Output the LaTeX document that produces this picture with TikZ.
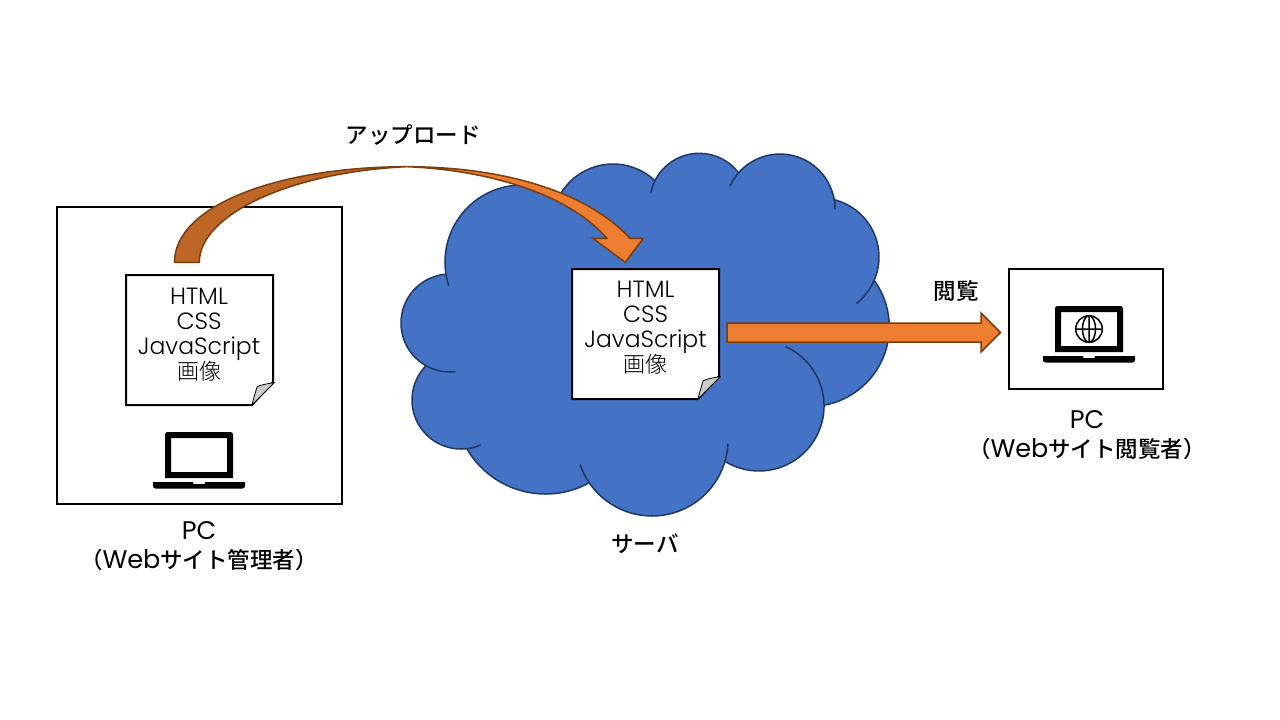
\documentclass[tikz,border=0pt]{standalone}
\usepackage{fontspec}
\setmainfont{Poppins}
\newfontfamily\jpfont{Noto Sans CJK JP Medium}
\newfontfamily\jplight{Noto Sans CJK JP Light}
\newfontfamily\latinlight{Poppins Light}
\definecolor{cloudblue}{HTML}{4472C4}
\definecolor{cloudline}{HTML}{1F3864}
\definecolor{arroworange}{HTML}{ED7D31}
\definecolor{arrowdark}{HTML}{BE6626}
\definecolor{arrowline}{HTML}{7A3D0E}
\tikzstyle{pcbox}=[draw, line width=2pt, fill=white, inner sep=0pt]
\tikzstyle{paper}=[inner sep=0pt, align=center, font=\latinlight\fontsize{23.5}{25}\selectfont]
\tikzstyle{label}=[inner sep=0pt, align=center, font=\fontsize{25.5}{29}\selectfont]
\tikzstyle{cloudedge}=[draw=cloudline, line width=1.5pt, line cap=round]
\tikzstyle{blockarrow}=[draw=arrowline, line width=1.5pt, line join=miter]
\newcommand{\pcbox}{\node[pcbox]}
\newcommand{\paper}{\node[paper]}
\newcommand{\txt}{\node[label]}
\newcommand{\jp}[1]{{\jpfont\fontsize{22.5}{29}\selectfont #1}}
\newcommand{\jpthin}[1]{{\jplight\fontsize{22}{25}\selectfont #1}}
% lobes of the cloud: centre x, centre y, radius, first and last angle
\newcommand{\lobes}{522/262/77/162.4/300.3, 613/225/61/207.8/313.5, 699.2/202.8/49.5/192.5/322,
 780/209/55/205/360, 820/257/59/284.7/411.6, 809.8/327/79.5/-35.2/79, 759/406/65/-65.6/122,
 652/440/76/3/160.9, 545.5/403/91/62/149.4, 461/400/49/67/223.4, 450/323/49/84/265}
% sheet with the turned up corner, #1 and #2 are the shift
\newcommand{\sheet}[2]{
\begin{scope}[shift={(#1,#2)}]
\draw[line width=2pt, fill=white, line join=miter] (126,275) -- (273,275) -- (273,382) -- (252,405) -- (126,405) -- cycle;
\draw[line width=.8pt, fill=black!20, line join=round] (274.5,382.5) .. controls (266,384) and (260,385) .. (257,387) .. controls (255,394) and (253,400) .. (252,405) -- cycle;
\end{scope}}
\newcommand{\laptop}[2]{
\begin{scope}[shift={(#1,#2)}]
\fill[even odd rule] (165,478) [rounded corners=2.5pt] -- (165,432) -- (233,432) [sharp corners] -- (233,478) -- cycle (171,438) rectangle (227,472);
\fill (153,482) -- (193,482) -- (193.5,484) -- (204.5,484) -- (205,482) -- (245,482) [rounded corners=2.5pt] -- (245,488.5) -- (153,488.5) [sharp corners] -- cycle;
\end{scope}}

\begin{document}
\begin{tikzpicture}[x=1pt, y=-1pt]
\useasboundingbox (0,0) rectangle (1280,720);

% cloud
\foreach \cx/\cy/\rr/\first/\last in \lobes {
  \fill[cloudblue] (\cx,\cy) circle (\rr);
}
\fill[cloudblue] (522,262) -- (613,225) -- (699,203) -- (780,209) -- (820,257) -- (810,327)
 -- (759,406) -- (652,440) -- (545,403) -- (461,400) -- (450,323) -- cycle;
\foreach \cx/\cy/\rr/\first/\last in \lobes {
  \draw[cloudedge] (\cx,\cy) ++(\first:\rr) arc[start angle=\first, end angle=\last, radius=\rr];
}

% the two PCs
\pcbox (admin) at (199.5,355.5) [minimum width=285, minimum height=297] {};
\pcbox (viewer) at (1086,329) [minimum width=154, minimum height=120] {};
\laptop{0}{0}
\laptop{890}{-126}
\coordinate (globe) at (1089,329);
\draw[line width=1.5pt] (globe) circle (13.3) (globe) ellipse (6.5 and 13.3)
 (1075.7,329) -- (1102.3,329) (1089,315.7) -- (1089,342.3);

% the sheets
\sheet{0}{0}
\sheet{446}{-6}
\paper (sheetleft) at (199,334.5) {HTML\\CSS\\JavaScript\\\jpthin{画像}};
\paper (sheetserver) at (645.5,328) {HTML\\CSS\\JavaScript\\\jpthin{画像}};

% curved arrow
\fill[arrowdark] (174.5,262.3) .. controls (174.5,205) and (280,166.7) .. (406.7,166.7)
 .. controls (290,172) and (199.3,215) .. (199.3,262.3) -- cycle;
\draw[blockarrow] (406.7,166.7) .. controls (290,172) and (199.3,215) .. (199.3,262.3) -- (174.5,262.3)
 .. controls (174.5,205) and (280,166.7) .. (406.7,166.7);
\draw[blockarrow, fill=arroworange] (406.7,166.7) .. controls (500,166.7) and (585,190) .. (630,238.3)
 -- (643.3,238.3) -- (625.3,262.3) -- (592.7,238.3) -- (606.7,238.3)
 .. controls (570,195) and (490,170) .. (406.7,166.7) -- cycle;

% straight arrow
\draw[blockarrow, fill=arroworange] (727,323) -- (981,323) -- (981,313) -- (1000.5,332.5) -- (981,352) -- (981,342) -- (727,342) -- cycle;

% labels
\txt (upload) at (413,134.5) {\jp{アップロード}};
\txt (browse) at (956,291) {\jp{閲覧}};
\txt (server) at (645,544) {\jp{サーバ}};
\txt (adminname) at (199,546.5) {PC\\\jp{（}Web\jp{サイト管理者）}};
\txt (viewername) at (1087,435.5) {PC\\\jp{（}Web\jp{サイト閲覧者）}};
\end{tikzpicture}
\end{document}
